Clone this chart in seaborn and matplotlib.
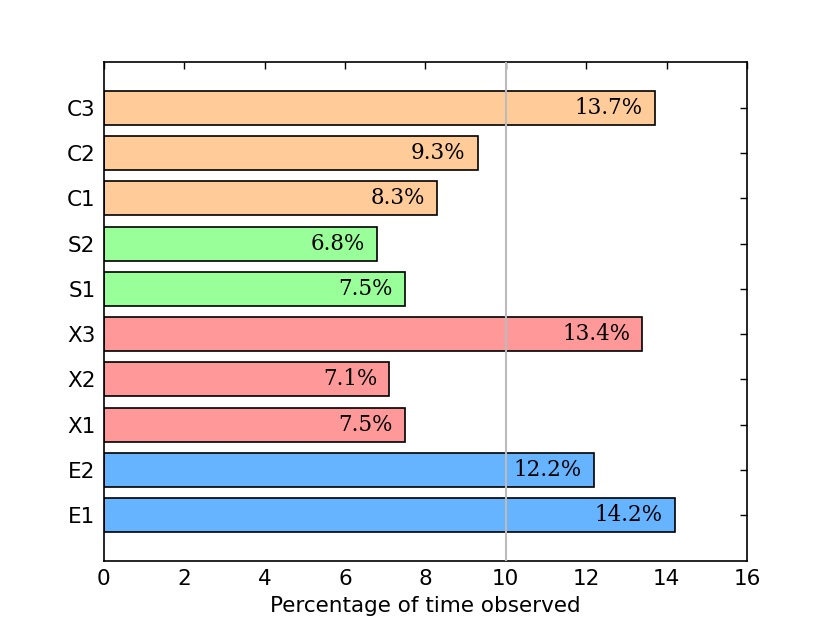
import matplotlib
matplotlib.use("Agg")
import matplotlib.pyplot as plt
import seaborn as sns
import pandas as pd

# data (top to bottom)
labels = ["C3", "C2", "C1", "S2", "S1", "X3", "X2", "X1", "E2", "E1"]
values = [13.7, 9.3, 8.3, 6.8, 7.5, 13.4, 7.1, 7.5, 12.2, 14.2]
groups = ["C", "C", "C", "S", "S", "X", "X", "X", "E", "E"]
group_colors = {"C": "#ffcc99", "S": "#99ff99", "X": "#ff9999", "E": "#66b3ff"}

df = pd.DataFrame({"label": labels, "value": values, "group": groups})

sns.set_style("white")
plt.rcParams["font.family"] = ["DejaVu Sans"]
plt.rcParams["text.color"] = "black"
plt.rcParams["axes.labelcolor"] = "black"
plt.rcParams["xtick.color"] = "black"
plt.rcParams["ytick.color"] = "black"

fig = plt.figure(figsize=(8.3, 6.23), dpi=100)
ax = fig.add_axes([0.125, 0.1, 0.775, 0.8])

sns.barplot(data=df, x="value", y="label", hue="group", palette=group_colors,
            order=labels, hue_order=["C", "S", "X", "E"], dodge=False,
            width=0.75, edgecolor="black", linewidth=1.2, saturation=1,
            legend=False, ax=ax)

ax.axvline(10, color="#bbbbbb", linewidth=1.5, zorder=5)

for i, v in enumerate(values):
    ax.text(v - 0.3, i, f"{v}%", ha="right", va="center", fontsize=15.5,
            family="DejaVu Serif", color="black", zorder=6)

ax.set_xlim(0, 16)
ax.set_ylim(10, -1)
ax.set_xticks(range(0, 17, 2))
ax.set_xlabel("Percentage of time observed", fontsize=15.5, labelpad=5)
ax.set_ylabel("")
ax.tick_params(axis="both", labelsize=15.5, length=5, width=1, color="black",
               labelcolor="black", top=True, right=True, direction="in", pad=6)
for s in ax.spines.values():
    s.set_visible(True)
    s.set_color("black")
    s.set_linewidth(1.2)

fig.savefig("out.png", dpi=100)
